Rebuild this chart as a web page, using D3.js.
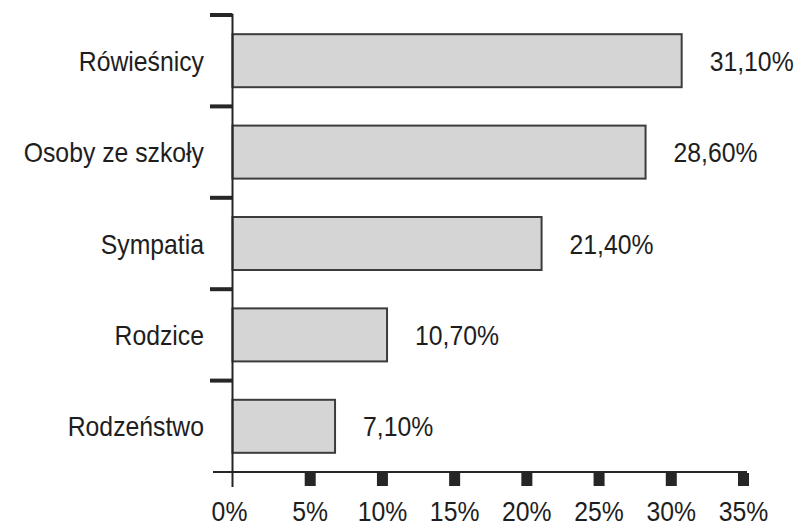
<!DOCTYPE html>
<html>
<head>
<meta charset="utf-8">
<script src="https://cdn.jsdelivr.net/npm/d3@7"></script>
<style>
  html, body { margin: 0; padding: 0; background: #fff; }
  svg { display: block; }
  text { font-family: "Liberation Sans", Arial, Helvetica, sans-serif; fill: #1e1e1e; }
</style>
</head>
<body>
<svg id="chart" width="801" height="527"></svg>
<script>
// Categories and their shares (percent)
const categories = ["Rówieśnicy", "Osoby ze szkoły", "Sympatia", "Rodzice", "Rodzeństwo"];
const values = [31.1, 28.6, 21.4, 10.7, 7.1];
const valueLabels = ["31,10%", "28,60%", "21,40%", "10,70%", "7,10%"];
const xTicks = [0, 5, 10, 15, 20, 25, 30, 35];
const xTickLabels = ["0%", "5%", "10%", "15%", "20%", "25%", "30%", "35%"];

const svg = d3.select("#chart");

const x = d3.scaleLinear().domain([0, 35]).range([232.5, 738]);
const y = d3.scaleBand()
  .domain(categories)
  .range([15, 472])
  .paddingInner(0.42)
  .paddingOuter(0.21);

const ink = "#262626";
const gap = y.step() * y.paddingInner() / 2;
const fontSize = 28;
const squeeze = 0.885; // narrow letterforms

// Places a horizontally condensed label at (px, py)
function label(sel, px, py, anchor) {
  return sel
    .attr("transform", (d, i) => `translate(${px(d, i)},${py(d, i)}) scale(${squeeze},1)`)
    .attr("text-anchor", anchor)
    .attr("font-size", fontSize);
}

// Bars
svg.append("g").selectAll("rect")
  .data(values)
  .join("rect")
  .attr("x", x(0))
  .attr("y", (d, i) => y(categories[i]))
  .attr("width", d => x(d) - x(0))
  .attr("height", y.bandwidth())
  .attr("fill", "#d5d5d5")
  .attr("stroke", "#3c3c3c")
  .attr("stroke-width", 2);

// Value labels
svg.append("g").selectAll("text")
  .data(values)
  .join("text")
  .call(label, d => x(d) + 28, (d, i) => y(categories[i]) + y.bandwidth() / 2 + 10, "start")
  .text((d, i) => valueLabels[i]);

// Category labels
svg.append("g").selectAll("text")
  .data(categories)
  .join("text")
  .call(label, () => 204, d => y(d) + y.bandwidth() / 2 + 10, "end")
  .text(d => d);

// Vertical axis line
svg.append("line")
  .attr("x1", x(0)).attr("x2", x(0))
  .attr("y1", 14).attr("y2", 487)
  .attr("stroke", ink).attr("stroke-width", 2);

// Category boundary ticks on the vertical axis
svg.append("g").selectAll("line")
  .data(categories)
  .join("line")
  .attr("x1", 210).attr("x2", x(0))
  .attr("y1", d => y(d) - gap)
  .attr("y2", d => y(d) - gap)
  .attr("stroke", ink).attr("stroke-width", 4);

// Horizontal axis line
svg.append("line")
  .attr("x1", 213).attr("x2", x(35) + 9)
  .attr("y1", 472).attr("y2", 472)
  .attr("stroke", ink).attr("stroke-width", 2);

// Square tick marks on the horizontal axis
svg.append("g").selectAll("rect")
  .data(xTicks.filter(t => t > 0))
  .join("rect")
  .attr("x", d => x(d))
  .attr("y", 473)
  .attr("width", 11)
  .attr("height", 13)
  .attr("fill", ink);

// Horizontal axis labels
svg.append("g").selectAll("text")
  .data(xTicks)
  .join("text")
  .call(label, d => (d === 0 ? x(d) - 3 : x(d) + 5.5), () => 521, "middle")
  .text((d, i) => xTickLabels[i]);
</script>
</body>
</html>
